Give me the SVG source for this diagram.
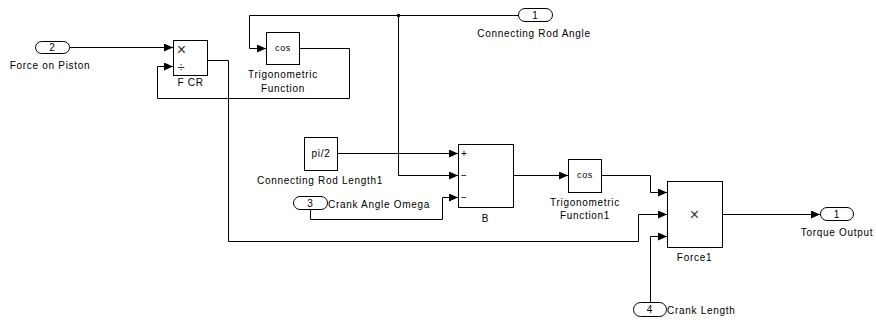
<svg xmlns="http://www.w3.org/2000/svg" width="876" height="322" viewBox="0 0 876 322">
<defs>
<marker id="ah" markerWidth="9" markerHeight="8" refX="9" refY="4" orient="auto" markerUnits="userSpaceOnUse">
<path d="M0,0 L9,4 L0,8 Z" fill="#000"/>
</marker>
<style>
.blk{fill:#fff;stroke:#000;stroke-width:1}
.port{fill:#fff;stroke:#000;stroke-width:1}
.ln{fill:none;stroke:#000;stroke-width:1}
.arr{marker-end:url(#ah)}
text{font-family:"Liberation Sans",Arial,sans-serif;font-size:10px;fill:#000;letter-spacing:0.7px}
.c{text-anchor:middle}
.s{font-size:9px}
.op{font-size:16px;letter-spacing:0;fill:#333}
</style>
</defs>
<rect width="876" height="322" fill="#fff"/>
<g id="connectors">
<path class="ln arr" d="M69.5,47.5 H173"/>
<path class="ln arr" d="M207.5,60.5 H228.5 V241.5 H638.5 V214.5 H667"/>
<path class="ln arr" d="M518,15.5 H249.5 V48.5 H266"/>
<path class="ln arr" d="M299.5,48.5 H349.5 V98.5 H157.5 V66.5 H173"/>
<path class="ln arr" d="M398.5,15.5 V175.5 H458"/>
<circle cx="398.5" cy="15.5" r="1.8" fill="#000"/>
<path class="ln arr" d="M337.5,153.5 H458"/>
<path class="ln arr" d="M310.5,209.5 V219.5 H442.5 V197.5 H458"/>
<path class="ln arr" d="M513.5,175.5 H568"/>
<path class="ln arr" d="M601.5,175.5 H650.5 V192.5 H667"/>
<path class="ln arr" d="M650.5,302 V236.5 H667"/>
<path class="ln arr" d="M722.5,214.5 H820"/>
</g>
<g id="in2">
<rect class="port" x="35.5" y="41.5" width="34" height="12" rx="6"/>
<text class="c" x="52.5" y="51">2</text>
<text class="c" x="50" y="69">Force on Piston</text>
</g>
<g id="fcr">
<rect class="blk" x="173.5" y="40.5" width="34" height="35"/>
<text class="c op" x="181.5" y="54.5">×</text>
<text class="c op" x="181" y="71.5" style="font-size:13px">÷</text>
<text class="c" x="190.5" y="86">F CR</text>
</g>
<g id="trig">
<rect class="blk" x="266.5" y="32.5" width="33" height="32"/>
<text class="c s" x="283" y="51">cos</text>
<text class="c" x="283" y="78">Trigonometric</text>
<text class="c" x="283" y="92">Function</text>
</g>
<g id="out_rodangle">
<rect class="port" x="518.5" y="8.5" width="34" height="13" rx="6.5"/>
<text class="c" x="535.5" y="18.5">1</text>
<text class="c" x="534" y="37">Connecting Rod Angle</text>
</g>
<g id="pi2">
<rect class="blk" x="304.5" y="137.5" width="33" height="33"/>
<text class="c" x="321" y="157">pi/2</text>
<text class="c" x="320" y="184">Connecting Rod Length1</text>
</g>
<g id="in3">
<rect class="port" x="293.5" y="196.5" width="34" height="13" rx="6.5"/>
<text class="c" x="310.5" y="206.5">3</text>
<text x="328" y="207.5">Crank Angle Omega</text>
</g>
<g id="B">
<rect class="blk" x="458.5" y="144.5" width="55" height="63"/>
<text x="461" y="157">+</text>
<text x="461" y="179">−</text>
<text x="461" y="201">−</text>
<text class="c" x="485.5" y="222">B</text>
</g>
<g id="trig1">
<rect class="blk" x="568.5" y="159.5" width="33" height="33"/>
<text class="c s" x="585" y="178">cos</text>
<text class="c" x="585" y="206">Trigonometric</text>
<text class="c" x="585" y="219">Function1</text>
</g>
<g id="force1">
<rect class="blk" x="667.5" y="181.5" width="55" height="66"/>
<text class="c op" x="694.5" y="219.5">×</text>
<text class="c" x="694.5" y="261">Force1</text>
</g>
<g id="in4">
<rect class="port" x="633.5" y="302.5" width="33" height="14" rx="7"/>
<text class="c" x="650" y="313">4</text>
<text x="667" y="314">Crank Length</text>
</g>
<g id="out_torque">
<rect class="port" x="820.5" y="207.5" width="33" height="13" rx="6.5"/>
<text class="c" x="837" y="217.5">1</text>
<text class="c" x="837" y="236">Torque Output</text>
</g>
</svg>
